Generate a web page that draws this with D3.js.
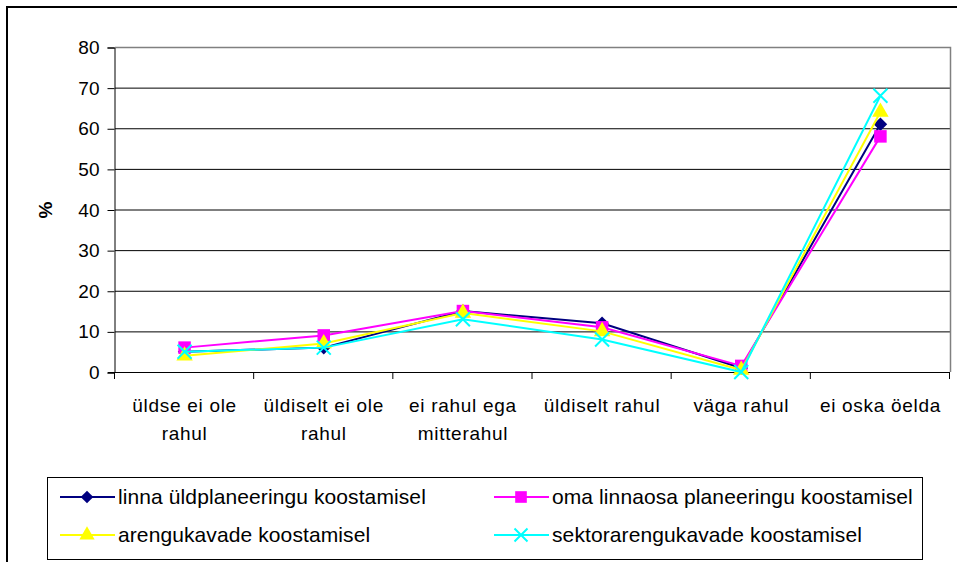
<!DOCTYPE html>
<html>
<head>
<meta charset="utf-8">
<script src="https://cdn.jsdelivr.net/npm/d3@7"></script>
<style>
  body { margin: 0; background: #fff; }
  svg { display: block; font-family: 'Liberation Sans', Arial, sans-serif; }
</style>
</head>
<body>
<svg id="container" width="957" height="562"></svg>
<script>
const categories = [
  ['üldse ei ole', 'rahul'],
  ['üldiselt ei ole', 'rahul'],
  ['ei rahul ega', 'mitterahul'],
  ['üldiselt rahul'],
  ['väga rahul'],
  ['ei oska öelda']
]
const yTicks = [0, 10, 20, 30, 40, 50, 60, 70, 80]

const seriesNames = [
  'linna üldplaneeringu koostamisel',
  'oma linnaosa planeeringu koostamisel',
  'arengukavade koostamisel',
  'sektorarengukavade koostamisel'
]
const linnaUld = [5, 6, 15, 12, 1, 61]
const omaLinnaosa = [6, 9, 15, 11, 1.5, 58]
const arengukavad = [4, 7, 14.5, 10, 0.5, 64]
const sektorArengukavad = [5, 6, 13, 8, 0, 68]

const colors = ['#000080', '#ff00ff', '#ffff00', '#00ffff']
const symbols = ['diamond', 'square', 'triangle', 'x']

const series = seriesNames.map((name, i) => ({
  name,
  values: [linnaUld, omaLinnaosa, arengukavad, sektorArengukavad][i],
  color: colors[i],
  symbol: symbols[i]
}))

const svg = d3.select('#container')
const plot = { left: 115, top: 47, right: 950, bottom: 372 }

const x = d3
  .scaleBand()
  .domain(d3.range(categories.length))
  .range([plot.left, plot.right])
const y = d3.scaleLinear().domain([0, 80]).range([plot.bottom, plot.top])

// outer chart frame
svg
  .append('path')
  .attr('d', 'M7,570 L7,7 L970,7')
  .attr('fill', 'none')
  .attr('stroke', '#000')
  .attr('stroke-width', 2)

// gridlines
svg
  .append('g')
  .selectAll('line')
  .data(yTicks.filter((d) => d > 0 && d < 80))
  .enter()
  .append('line')
  .attr('x1', plot.left)
  .attr('x2', plot.right)
  .attr('y1', (d) => y(d) + 0.5)
  .attr('y2', (d) => y(d) + 0.5)
  .attr('stroke', '#000')

// plot area border (top and right, gray)
svg
  .append('path')
  .attr('d', `M${plot.left},${y(80) + 0.5} L${plot.right + 0.5},${y(80) + 0.5} L${plot.right + 0.5},${plot.bottom}`)
  .attr('fill', 'none')
  .attr('stroke', '#808080')
  .attr('stroke-width', 1.5)

// y axis
const yAxis = svg
  .append('g')
  .attr('transform', `translate(${plot.left - 0.5},0.5)`)
  .call(d3.axisLeft(y).tickValues(yTicks).tickSize(7).tickPadding(8))
yAxis.select('.domain').attr('stroke', '#000')
yAxis
  .selectAll('text')
  .attr('font-size', 19)
  .attr('font-family', "'Liberation Sans', Arial, sans-serif")
  .attr('fill', '#000')

// x axis with ticks between categories
svg
  .append('line')
  .attr('x1', plot.left - 7)
  .attr('x2', plot.right)
  .attr('y1', plot.bottom + 0.5)
  .attr('y2', plot.bottom + 0.5)
  .attr('stroke', '#000')
svg
  .append('g')
  .selectAll('line')
  .data(d3.range(categories.length + 1))
  .enter()
  .append('line')
  .attr('x1', (d) => (d < categories.length ? x(d) : plot.right) - 0.5)
  .attr('x2', (d) => (d < categories.length ? x(d) : plot.right) - 0.5)
  .attr('y1', plot.bottom)
  .attr('y2', plot.bottom + 7)
  .attr('stroke', '#000')

const catLabels = svg
  .append('g')
  .selectAll('text')
  .data(categories)
  .enter()
  .append('text')
  .attr('x', (d, i) => x(i) + x.bandwidth() / 2)
  .attr('y', 412)
  .attr('text-anchor', 'middle')
  .attr('font-size', 19)
  .attr('letter-spacing', 0.7)
catLabels
  .selectAll('tspan')
  .data((d) => d)
  .enter()
  .append('tspan')
  .attr('x', function () {
    return this.parentNode.getAttribute('x')
  })
  .attr('dy', (d, i) => (i === 0 ? 0 : 28))
  .text((d) => d)

// y axis title
svg
  .append('text')
  .attr('transform', 'translate(52,210) rotate(-90)')
  .attr('text-anchor', 'middle')
  .attr('font-size', 19)
  .attr('font-weight', 'bold')
  .text('%')

// symbols
function marker(sel, symbol, color, size) {
  if (symbol === 'x') {
    const h = size / 2
    sel
      .append('path')
      .attr('d', `M${-h},${-h}L${h},${h}M${-h},${h}L${h},${-h}`)
      .attr('stroke', color)
      .attr('stroke-width', 2)
      .attr('fill', 'none')
  } else {
    const type = {
      diamond: d3.symbolDiamond2,
      square: d3.symbolSquare,
      triangle: d3.symbolTriangle
    }[symbol]
    const area = { diamond: size * size * 0.6, square: size * size * 0.8, triangle: size * size * 0.6 }[symbol]
    sel
      .append('path')
      .attr('d', d3.symbol().type(type).size(area))
      .attr('fill', color)
  }
}

const line = d3
  .line()
  .x((d, i) => x(i) + x.bandwidth() / 2)
  .y((d) => y(d))

const seriesG = svg
  .append('g')
  .selectAll('g')
  .data(series)
  .enter()
  .append('g')

seriesG
  .append('path')
  .attr('d', (d) => line(d.values))
  .attr('fill', 'none')
  .attr('stroke', (d) => d.color)
  .attr('stroke-width', 2)

seriesG.each(function (s) {
  d3.select(this)
    .selectAll('g.pt')
    .data(s.values)
    .enter()
    .append('g')
    .attr('class', 'pt')
    .attr('transform', (d, i) => `translate(${x(i) + x.bandwidth() / 2},${y(d)})`)
    .each(function () {
      marker(d3.select(this), s.symbol, s.color, 14)
    })
})

// legend
const legend = svg.append('g')
legend
  .append('rect')
  .attr('x', 47.5)
  .attr('y', 477.5)
  .attr('width', 875)
  .attr('height', 82)
  .attr('fill', '#fff')
  .attr('stroke', '#000')

const legendItems = legend
  .selectAll('g.item')
  .data(series)
  .enter()
  .append('g')
  .attr('class', 'item')
  .attr('transform', (d, i) => `translate(${i % 2 === 0 ? 60 : 494},${i < 2 ? 497 : 535})`)

legendItems
  .append('line')
  .attr('x1', 0)
  .attr('x2', 55)
  .attr('stroke', (d) => d.color)
  .attr('stroke-width', 2)
legendItems.each(function (s) {
  const g = d3.select(this).append('g').attr('transform', 'translate(27,0)')
  marker(g, s.symbol, s.color, 13)
})
legendItems
  .append('text')
  .attr('x', 58)
  .attr('dy', '0.35em')
  .attr('font-size', 21)
  .attr('letter-spacing', 0.1)
  .text((d) => d.name)
</script>
</body>
</html>
